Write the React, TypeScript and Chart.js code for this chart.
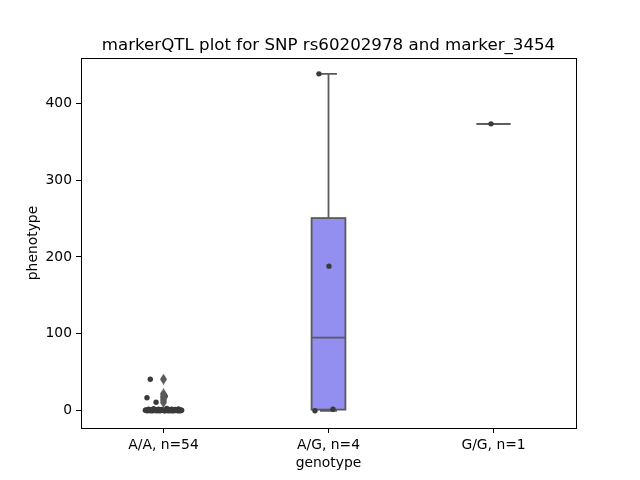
import React, { useEffect, useRef } from "react";
import { Chart, registerables } from "chart.js";

Chart.register(...registerables);

const categories = ["A/A, n=54", "A/G, n=4", "G/G, n=1"];

const aaValues = [
  41, 22, 19, 17, 14, 11,
  3.0, 2.6, 2.4, 2.2, 2.0, 1.9, 1.8, 1.7, 1.6, 1.5,
  1.4, 1.3, 1.2, 1.1, 1.0, 1.0, 0.9, 0.9, 0.8, 0.8,
  0.7, 0.7, 0.6, 0.6, 0.5, 0.5, 0.5, 0.4, 0.4, 0.4,
  0.3, 0.3, 0.3, 0.2, 0.2, 0.2, 0.1, 0.1, 0.1, 0.1,
  0.0, 0.0, 0.0, 0.0, 0.0, 0.0, 0.0, 0.0,
];
const aaJitter = [
  -0.08, 0.0, 0.01, -0.1, 0.0, -0.045,
  0.02, -0.06, 0.09, -0.03, 0.05, -0.09, 0.07, -0.01, 0.03, -0.07,
  0.1, -0.04, 0.06, -0.105, 0.015, 0.08, -0.02, 0.04, -0.085, 0.095,
  -0.055, 0.035, 0.11, -0.11, 0.0, 0.065, -0.035, 0.085, -0.075, 0.025,
  -0.015, 0.055, -0.095, 0.075, -0.05, 0.105, 0.01, -0.065, 0.045, -0.025,
  0.09, -0.1, 0.03, -0.04, 0.06, -0.08, 0.1, 0.005,
];
const agValues = [438, 188, 0, 2];
const agJitter = [-0.058, 0.003, -0.082, 0.027];
const ggValues = [373];
const ggJitter = [-0.015];

const groupValues = [aaValues, agValues, ggValues];
const groupJitter = [aaJitter, agJitter, ggJitter];

const yTicks = [0, 100, 200, 300, 400];
const yMin = -22.4;
const yMax = 458.6;

const titleText = "markerQTL plot for SNP rs60202978 and marker_3454";
const xLabel = "genotype";
const yLabel = "phenotype";

const boxColor = "rgb(147,143,240)";
const lineColor = "#5a5a5a";
const pointColor = "#3a3a3a";
const boxWidth = 0.205;
const FONT = "'DejaVu Sans', sans-serif";

function quantile(s: number[], p: number) {
  const pos = (s.length - 1) * p;
  const lo = Math.floor(pos);
  const hi = Math.ceil(pos);
  return s[lo] + (s[hi] - s[lo]) * (pos - lo);
}

function boxStats(vals: number[]) {
  const s = [...vals].sort((a, b) => a - b);
  const q1 = quantile(s, 0.25);
  const med = quantile(s, 0.5);
  const q3 = quantile(s, 0.75);
  const iqr = q3 - q1;
  const lf = q1 - 1.5 * iqr;
  const hf = q3 + 1.5 * iqr;
  const inside = s.filter((v) => v >= lf && v <= hf);
  const fliers = s.filter((v) => v < lf || v > hf);
  return {
    q1,
    med,
    q3,
    wlo: Math.min(...inside),
    whi: Math.max(...inside),
    fliers,
  };
}

const stats = groupValues.map(boxStats);

function makeDiamond(color: string) {
  const w = 7;
  const h = 11;
  const c = document.createElement("canvas");
  c.width = w;
  c.height = h;
  const ctx = c.getContext("2d")!;
  ctx.fillStyle = color;
  ctx.beginPath();
  ctx.moveTo(w / 2, 0);
  ctx.lineTo(w, h / 2);
  ctx.lineTo(w / 2, h);
  ctx.lineTo(0, h / 2);
  ctx.closePath();
  ctx.fill();
  return c;
}

const boxPlugin = {
  id: "boxPlugin",
  beforeDatasetsDraw(chart: any) {
    const { ctx, scales } = chart;
    const xs = scales.x;
    const ys = scales.y;
    ctx.save();
    ctx.strokeStyle = lineColor;
    ctx.lineWidth = 1.8;
    stats.forEach((st, i) => {
      const cx = xs.getPixelForValue(i);
      const half = xs.getPixelForValue(i + boxWidth / 2) - cx;
      const capHalf = half / 2;
      const yq1 = ys.getPixelForValue(st.q1);
      const yq3 = ys.getPixelForValue(st.q3);
      const ymed = ys.getPixelForValue(st.med);
      const ylo = ys.getPixelForValue(st.wlo);
      const yhi = ys.getPixelForValue(st.whi);
      ctx.beginPath();
      ctx.moveTo(cx, yq3);
      ctx.lineTo(cx, yhi);
      ctx.moveTo(cx, yq1);
      ctx.lineTo(cx, ylo);
      ctx.moveTo(cx - capHalf, yhi);
      ctx.lineTo(cx + capHalf, yhi);
      ctx.moveTo(cx - capHalf, ylo);
      ctx.lineTo(cx + capHalf, ylo);
      ctx.stroke();
      ctx.fillStyle = boxColor;
      ctx.fillRect(cx - half, yq3, 2 * half, yq1 - yq3);
      ctx.strokeRect(cx - half, yq3, 2 * half, yq1 - yq3);
      ctx.beginPath();
      ctx.moveTo(cx - half, ymed);
      ctx.lineTo(cx + half, ymed);
      ctx.stroke();
    });
    ctx.restore();
  },
  afterDraw(chart: any) {
    const { ctx, chartArea } = chart;
    const { left, right, top, bottom } = chartArea;
    ctx.save();
    ctx.strokeStyle = "#000";
    ctx.lineWidth = 1;
    ctx.strokeRect(Math.round(left) + 0.5, Math.round(top) + 0.5, Math.round(right - left), Math.round(bottom - top));
    ctx.fillStyle = "#000";
    ctx.textAlign = "center";
    ctx.textBaseline = "alphabetic";
    ctx.font = `16.67px ${FONT}`;
    ctx.fillText(titleText, (left + right) / 2, 50);
    ctx.font = `13.89px ${FONT}`;
    ctx.fillText(xLabel, (left + right) / 2, 467);
    ctx.translate(37, (top + bottom) / 2);
    ctx.rotate(-Math.PI / 2);
    ctx.fillText(yLabel, 0, 0);
    ctx.restore();
  },
};

export default function App() {
  const ref = useRef<HTMLCanvasElement>(null);
  useEffect(() => {
    if (!ref.current) return;
    const diamond = makeDiamond(lineColor);
    const stripData: { x: number; y: number }[] = [];
    groupValues.forEach((vals, i) => {
      vals.forEach((v, j) => stripData.push({ x: i + groupJitter[i][j], y: v }));
    });
    const flierData: { x: number; y: number }[] = [];
    stats.forEach((st, i) => st.fliers.forEach((v) => flierData.push({ x: i, y: v })));

    const chart = new Chart(ref.current, {
      type: "scatter",
      data: {
        datasets: [
          {
            data: flierData,
            pointStyle: diamond as any,
            pointRadius: 5,
            backgroundColor: lineColor,
            borderWidth: 0,
          },
          {
            data: stripData,
            pointRadius: 2.7,
            backgroundColor: pointColor,
            borderWidth: 0,
          },
        ],
      },
      options: {
        responsive: false,
        animation: false,
        events: [],
        layout: { padding: { left: 0, top: 58, right: 64, bottom: 0 } },
        plugins: {
          legend: { display: false },
          tooltip: { enabled: false },
          title: { display: false },
        },
        scales: {
          x: {
            type: "linear",
            min: -0.5,
            max: 2.5,
            afterBuildTicks: (s: any) => {
              s.ticks = categories.map((_, i) => ({ value: i }));
            },
            afterFit: (s: any) => {
              s.height = 52;
            },
            grid: { drawOnChartArea: false, drawTicks: true, tickLength: 5, color: "#000", lineWidth: 1 },
            border: { display: false },
            ticks: {
              padding: 4,
              color: "#000",
              font: { family: FONT, size: 13.89 },
              maxRotation: 0,
              autoSkip: false,
              callback: (v: any) => categories[Math.round(Number(v))] ?? "",
            },
          },
          y: {
            type: "linear",
            min: yMin,
            max: yMax,
            afterBuildTicks: (s: any) => {
              s.ticks = yTicks.map((v) => ({ value: v }));
            },
            afterFit: (s: any) => {
              s.width = 81;
            },
            grid: { drawOnChartArea: false, drawTicks: true, tickLength: 5, color: "#000", lineWidth: 1 },
            border: { display: false },
            ticks: {
              padding: 4,
              color: "#000",
              font: { family: FONT, size: 13.89 },
              callback: (v: any) => String(v),
            },
          },
        },
      },
      plugins: [boxPlugin],
    });
    return () => chart.destroy();
  }, []);
  return (
    <div style={{ position: "fixed", left: 0, top: 0, width: 640, height: 480, background: "#fff" }}>
      <canvas ref={ref} width={640} height={480} style={{ display: "block" }} />
    </div>
  );
}
